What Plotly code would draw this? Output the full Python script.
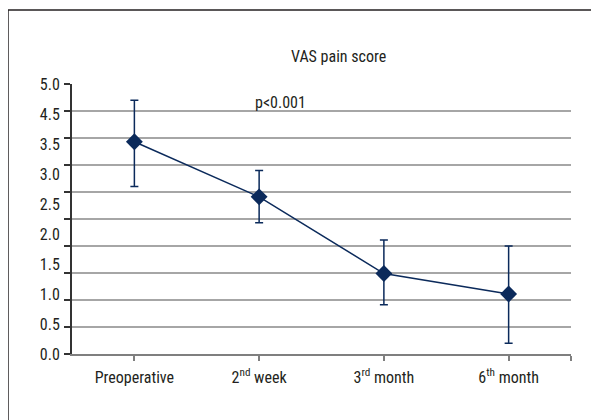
import numpy as np
import plotly.graph_objects as go

categories = ["Preoperative", "2<sup>nd</sup> week", "3<sup>rd</sup> month", "6<sup>th</sup> month"]
means = [3.93, 2.91, 1.49, 1.11]
err_plus = [0.77, 0.49, 0.62, 0.89]
err_minus = [0.83, 0.48, 0.58, 0.91]
ytick_labels = ["5.0", "4.5", "3.5", "3.0", "2.5", "2.0", "1.5", "1.0", "0.5", "0.0"]
title_text = "VAS pain score"
p_text = "p<0.001"

FONT = "Liberation Sans Narrow, Roboto Condensed, Arial Narrow, Liberation Sans, sans-serif"
NAVY = "#0B2A5B"
TXT = "#231F20"
FS = 16

xpos = list(range(len(categories)))

fig = go.Figure()
fig.add_trace(go.Scatter(
    x=xpos, y=means, mode="lines+markers",
    line=dict(color=NAVY, width=1.5),
    marker=dict(symbol="diamond", size=13, color=NAVY),
    error_y=dict(type="data", symmetric=False, array=err_plus, arrayminus=err_minus,
                 color=NAVY, thickness=1.5, width=4),
    showlegend=False, hoverinfo="skip",
))
# invisible trace to carry the label axis
fig.add_trace(go.Scatter(x=[0], y=[0], yaxis="y2", mode="markers",
                         marker=dict(opacity=0), showlegend=False, hoverinfo="skip"))

label_pos = np.linspace(5.0, 0.0, len(ytick_labels))

fig.update_layout(
    width=599, height=420,
    margin=dict(l=64, r=36, t=76, b=74),
    paper_bgcolor="white", plot_bgcolor="white",
    font=dict(family=FONT, size=FS, color=TXT),
    xaxis=dict(
        range=[-0.5, 3.5], tickvals=xpos + [3.5], ticktext=categories + [""],
        ticks="outside", ticklen=5, tickcolor="#7F7F7F", tickwidth=1.5,
        showline=True, linecolor="#7F7F7F", linewidth=2,
        showgrid=False, zeroline=False, fixedrange=True,
        ticklabelstandoff=3,
        tickfont=dict(family=FONT, size=FS, color=TXT),
    ),
    yaxis=dict(
        range=[0, 5], dtick=0.5, tick0=0,
        showticklabels=False, ticks="outside", ticklen=6, tickcolor="#333333", tickwidth=1.5,
        showline=True, linecolor="#333333", linewidth=1.5,
        showgrid=True, gridcolor="#A6A6A6", gridwidth=1.5,
        zeroline=False, fixedrange=True,
    ),
    yaxis2=dict(
        overlaying="y", side="left", range=[0, 5],
        tickvals=list(label_pos), ticktext=ytick_labels,
        ticks="outside", ticklen=8, tickcolor="rgba(0,0,0,0)",
        showgrid=False, showline=False, zeroline=False, fixedrange=True,
        tickfont=dict(family=FONT, size=FS, color=TXT),
    ),
    annotations=[
        dict(text=title_text, xref="paper", yref="paper", x=0.535, y=1.1,
             showarrow=False, xanchor="center", yanchor="middle",
             font=dict(family=FONT, size=FS, color=TXT)),
        dict(text=p_text, xref="paper", yref="paper", x=0.417, y=0.93,
             showarrow=False, xanchor="center", yanchor="middle",
             font=dict(family=FONT, size=FS, color=TXT)),
    ],
    shapes=[
        dict(type="line", xref="paper", yref="paper", x0=-0.1283, x1=1.1, y0=1.274, y1=1.274,
             line=dict(color="#231F20", width=1.5)),
        dict(type="line", xref="paper", yref="paper", x0=-0.1283, x1=-0.1283, y0=1.274, y1=-0.3,
             line=dict(color="#231F20", width=1.5)),
    ],
)

fig.write_html("out.html")
